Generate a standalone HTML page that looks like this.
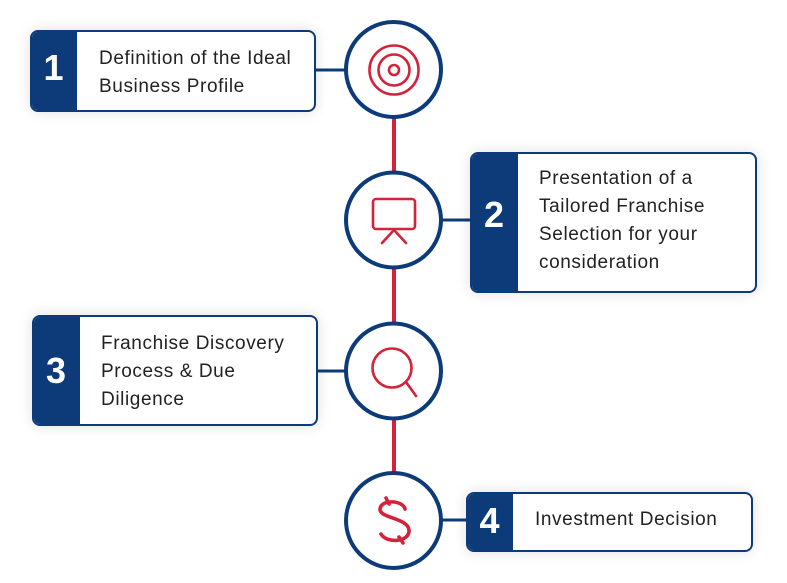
<!DOCTYPE html>
<html>
<head>
<meta charset="utf-8">
<style>
  html, body { margin:0; padding:0; background:#fff; }
  body { width:787px; height:583px; position:relative; overflow:hidden;
         font-family:"Liberation Sans", sans-serif; }
  svg.bg { position:absolute; left:0; top:0; }
  .box { position:absolute; box-sizing:border-box; border:2px solid #0d3b7a;
         border-radius:8px; background:#fff; overflow:hidden;
         box-shadow:0 0 14px rgba(0,0,0,0.13); }
  .tab { position:absolute; left:0; top:0; bottom:0; background:#0d3b7a; }
  .num { position:absolute; color:#fff; font-weight:bold; font-size:36px;
         line-height:36px; text-align:center; }
  .txt { position:absolute; color:#222; font-size:19px; line-height:28px;
         letter-spacing:0.6px; white-space:nowrap; }
</style>
</head>
<body>
<svg class="bg" width="787" height="583" viewBox="0 0 787 583">
  <!-- red vertical spine -->
  <line x1="394" y1="110" x2="394" y2="480" stroke="#d3223a" stroke-width="4"/>
  <!-- navy connectors -->
  <line x1="310" y1="70" x2="346" y2="70" stroke="#0d3b7a" stroke-width="3"/>
  <line x1="441" y1="220" x2="476" y2="220" stroke="#0d3b7a" stroke-width="3"/>
  <line x1="312" y1="371" x2="346" y2="371" stroke="#0d3b7a" stroke-width="3"/>
  <line x1="441" y1="520" x2="472" y2="520" stroke="#0d3b7a" stroke-width="3"/>
  <!-- circles -->
  <circle cx="393.5" cy="69.5" r="47.5" fill="#fff" stroke="#0d3b7a" stroke-width="4"/>
  <circle cx="393.5" cy="220" r="47.5" fill="#fff" stroke="#0d3b7a" stroke-width="4"/>
  <circle cx="393.5" cy="371" r="47.5" fill="#fff" stroke="#0d3b7a" stroke-width="4"/>
  <circle cx="393.5" cy="520.5" r="47.5" fill="#fff" stroke="#0d3b7a" stroke-width="4"/>
  <!-- target icon -->
  <g fill="none" stroke="#d3223a" stroke-width="2.6">
    <circle cx="394" cy="70" r="24.5"/>
    <circle cx="394" cy="70" r="15.5"/>
    <circle cx="394" cy="70" r="5"/>
  </g>
  <!-- presentation icon -->
  <g fill="none" stroke="#d3223a" stroke-width="2.6" stroke-linecap="round">
    <rect x="373" y="199" width="42" height="30" rx="3"/>
    <line x1="394" y1="230" x2="382" y2="243"/>
    <line x1="394" y1="230" x2="406" y2="243"/>
  </g>
  <!-- magnifier icon -->
  <g fill="none" stroke="#d3223a" stroke-width="2.6" stroke-linecap="round">
    <circle cx="392" cy="368" r="19.5"/>
    <line x1="406" y1="382" x2="416" y2="396"/>
  </g>
  <!-- dollar icon -->
  <g fill="none" stroke="#d3223a" stroke-width="3.6" stroke-linecap="round" stroke-linejoin="round">
    <path d="M405 509 C403 500 381 499 380 509 C379 518 408 518 409 530 C410 542 387 544 381 534"/>
    <line x1="386" y1="498" x2="389" y2="504"/>
    <line x1="399" y1="537" x2="403" y2="543"/>
  </g>
</svg>

<div class="box" style="left:30px;top:30px;width:286px;height:82px;">
  <div class="tab" style="width:45px;"></div>
</div>
<div class="box" style="left:470px;top:152px;width:287px;height:141px;">
  <div class="tab" style="width:46px;"></div>
</div>
<div class="box" style="left:32px;top:315px;width:286px;height:111px;">
  <div class="tab" style="width:46px;"></div>
</div>
<div class="box" style="left:466px;top:492px;width:287px;height:60px;">
  <div class="tab" style="width:45px;"></div>
</div>

<div class="num" style="left:30px;top:50px;width:47px;">1</div>
<div class="num" style="left:470px;top:197px;width:48px;">2</div>
<div class="num" style="left:32px;top:353px;width:48px;">3</div>
<div class="num" style="left:466px;top:503px;width:47px;">4</div>

<div class="txt" style="left:99px;top:45px;">Definition of the Ideal<br>Business Profile</div>
<div class="txt" style="left:539px;top:165px;">Presentation of a<br>Tailored Franchise<br>Selection for your<br>consideration</div>
<div class="txt" style="left:101px;top:330px;">Franchise Discovery<br>Process &amp; Due<br>Diligence</div>
<div class="txt" style="left:535px;top:506px;">Investment Decision</div>
</body>
</html>
